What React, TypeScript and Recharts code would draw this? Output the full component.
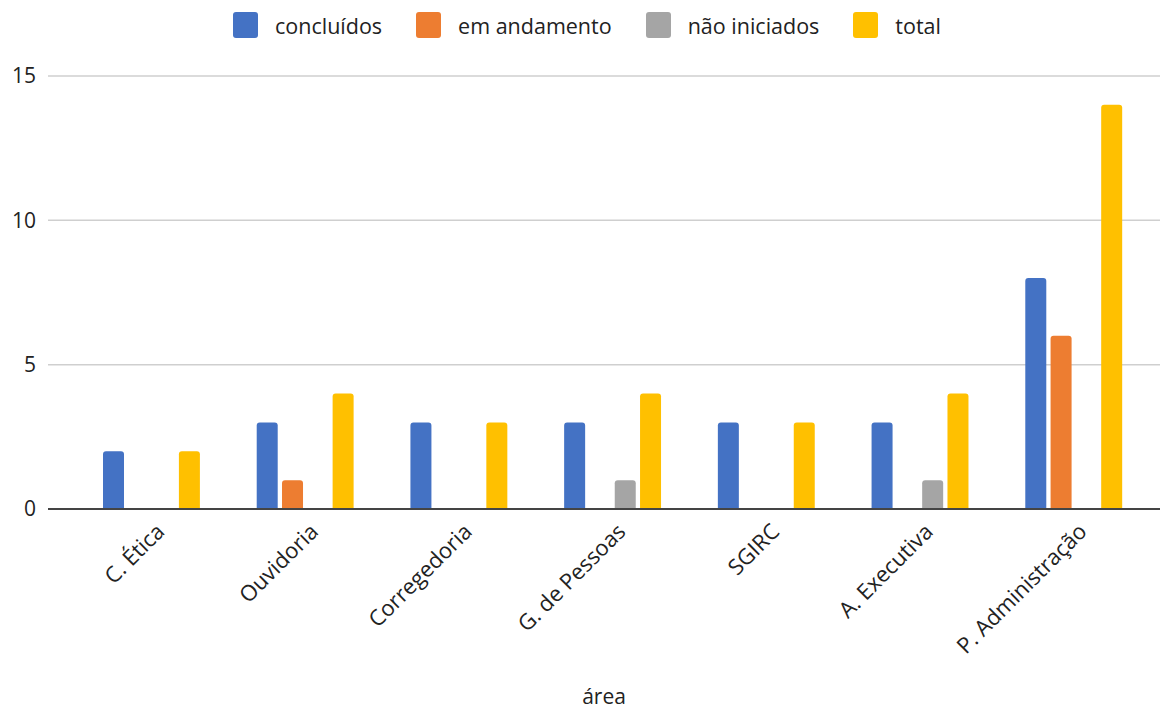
import React from 'react';
import { BarChart, Bar, XAxis, YAxis, CartesianGrid, Legend, Label } from 'recharts';

const areas = ['C. Ética', 'Ouvidoria', 'Corregedoria', 'G. de Pessoas', 'SGIRC', 'A. Executiva', 'P. Administração'];
const concluidos = [2, 3, 3, 3, 3, 3, 8];
const emAndamento = [0, 1, 0, 0, 0, 0, 6];
const naoIniciados = [0, 0, 0, 1, 0, 1, 0];
const total = [2, 4, 3, 4, 3, 4, 14];
const yTicks = [0, 5, 10, 15];

const series = [
  { key: 'concluidos', name: 'concluídos', color: '#4472C4' },
  { key: 'emAndamento', name: 'em andamento', color: '#ED7D31' },
  { key: 'naoIniciados', name: 'não iniciados', color: '#A5A5A5' },
  { key: 'total', name: 'total', color: '#FFC000' },
];

const data = areas.map((area, i) => ({
  area,
  concluidos: concluidos[i],
  emAndamento: emAndamento[i],
  naoIniciados: naoIniciados[i],
  total: total[i],
}));

const font = '"Open Sans", sans-serif';

function AreaTick(props: any) {
  const { x, y, payload } = props;
  return (
    <g transform={`translate(${x + 14},${y + 22})`}>
      <text x={0} y={0} textAnchor="end" transform="rotate(-45)" fontSize={22} fontFamily={font} fill="#222">
        {payload.value}
      </text>
    </g>
  );
}

function LegendBox() {
  return (
    <div style={{ display: 'flex', justifyContent: 'center', alignItems: 'center', fontFamily: font, fontSize: 21.5, color: '#222', height: 26, paddingLeft: 11 }}>
      {series.map((s, i) => (
        <div key={s.key} style={{ display: 'flex', alignItems: 'center', marginLeft: i === 0 ? 0 : 34 }}>
          <span style={{ width: 25, height: 26, background: s.color, borderRadius: 3, display: 'inline-block', marginRight: 17 }} />
          <span>{s.name}</span>
        </div>
      ))}
    </div>
  );
}

export default function App() {
  return (
    <div style={{ position: 'absolute', left: 0, top: 0, background: '#fff' }}>
      <BarChart
        width={1163}
        height={709}
        data={data}
        margin={{ top: 50, right: 3, bottom: 0, left: 0 }}
        barSize={21}
        barGap={4.3}
      >
        <CartesianGrid vertical={false} stroke="#cfcfcf" strokeWidth={1.5} />
        <Legend verticalAlign="top" content={<LegendBox />} wrapperStyle={{ top: 12, left: 0, width: 1163 }} />
        <XAxis
          dataKey="area"
          interval={0}
          height={200}
          tick={<AreaTick />}
          tickLine={false}
          tickSize={0}
          axisLine={{ stroke: '#444', strokeWidth: 2 }}
          padding={{ left: 27, right: 9 }}
        >
          <Label value="área" position="insideBottom" offset={5} fontSize={21} fontFamily={font} fill="#222" />
        </XAxis>
        <YAxis
          domain={[0, 15]}
          ticks={yTicks}
          width={48}
          axisLine={false}
          tickLine={false}
          tickSize={0}
          tickMargin={12}
          tick={{ fontSize: 21, fontFamily: font, fill: '#222' }}
        />
        {series.map((s) => (
          <Bar key={s.key} dataKey={s.key} name={s.name} fill={s.color} radius={[3, 3, 0, 0]} isAnimationActive={false} />
        ))}
      </BarChart>
    </div>
  );
}
